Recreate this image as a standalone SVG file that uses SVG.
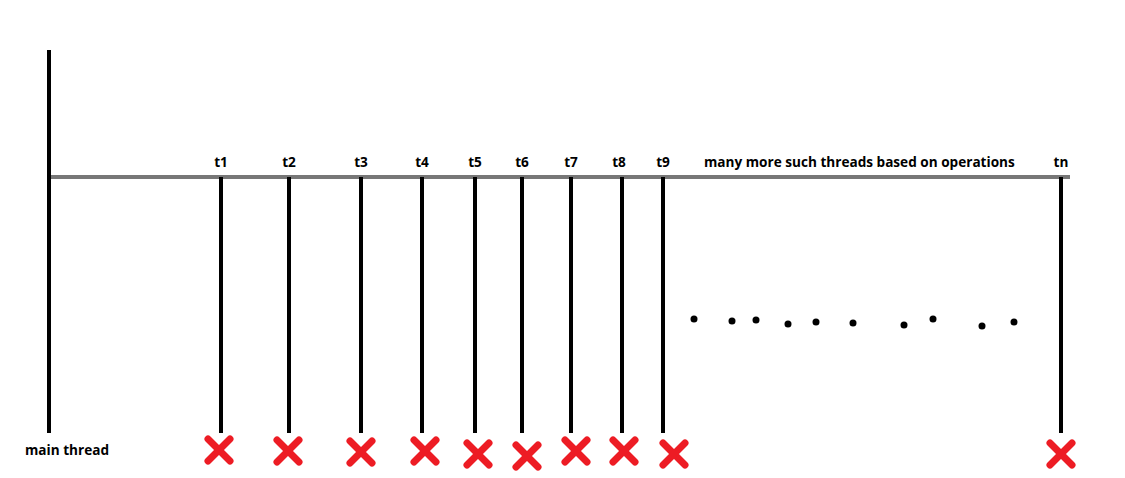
<svg xmlns="http://www.w3.org/2000/svg" width="1125" height="478" viewBox="0 0 1125 478">
<style>
.lbl{font-family:"Open Sans","Noto Sans","DejaVu Sans",sans-serif;font-weight:bold;font-size:13.6px;fill:#000}
.thr{stroke:#000;stroke-width:4}
.x{stroke:#ed1c24;stroke-width:7;stroke-linecap:round}
.dot{fill:#000}
</style>
<defs>
<g id="cross"><line class="x" x1="-11" y1="-11" x2="11" y2="11"/><line class="x" x1="11" y1="-11" x2="-11" y2="11"/></g>
</defs>
<rect width="1125" height="478" fill="#fff"/>
<g id="connectors">
<line x1="50" y1="177" x2="1070" y2="177" stroke="#777" stroke-width="4"/>
</g>
<g id="main"><line class="thr" x1="49" y1="50" x2="49" y2="433" stroke-width="5"/><text class="lbl" x="25" y="455">main thread</text></g>
<g id="t1"><line class="thr" x1="221" y1="177" x2="221" y2="433"/><text class="lbl" x="221" y="167" text-anchor="middle">t1</text><use href="#cross" x="219" y="450"/></g>
<g id="t2"><line class="thr" x1="289" y1="177" x2="289" y2="433"/><text class="lbl" x="289" y="167" text-anchor="middle">t2</text><use href="#cross" x="288" y="451"/></g>
<g id="t3"><line class="thr" x1="361" y1="177" x2="361" y2="433"/><text class="lbl" x="361" y="167" text-anchor="middle">t3</text><use href="#cross" x="361" y="452"/></g>
<g id="t4"><line class="thr" x1="422" y1="177" x2="422" y2="433"/><text class="lbl" x="422" y="167" text-anchor="middle">t4</text><use href="#cross" x="425" y="451"/></g>
<g id="t5"><line class="thr" x1="475" y1="177" x2="475" y2="433"/><text class="lbl" x="475" y="167" text-anchor="middle">t5</text><use href="#cross" x="478" y="454"/></g>
<g id="t6"><line class="thr" x1="522" y1="177" x2="522" y2="433"/><text class="lbl" x="522" y="167" text-anchor="middle">t6</text><use href="#cross" x="527" y="456"/></g>
<g id="t7"><line class="thr" x1="571" y1="177" x2="571" y2="433"/><text class="lbl" x="571" y="167" text-anchor="middle">t7</text><use href="#cross" x="576" y="451"/></g>
<g id="t8"><line class="thr" x1="622" y1="177" x2="622" y2="433"/><text class="lbl" x="619" y="167" text-anchor="middle">t8</text><use href="#cross" x="624" y="451"/></g>
<g id="t9"><line class="thr" x1="663" y1="177" x2="663" y2="433"/><text class="lbl" x="663" y="167" text-anchor="middle">t9</text><use href="#cross" x="674" y="454"/></g>
<g id="more"><text class="lbl" x="704" y="167">many more such threads based on operations</text>
<circle class="dot" cx="694" cy="319" r="3.5"/><circle class="dot" cx="732" cy="321" r="3.5"/><circle class="dot" cx="756" cy="320" r="3.5"/><circle class="dot" cx="788" cy="324" r="3.5"/><circle class="dot" cx="816" cy="322" r="3.5"/><circle class="dot" cx="853" cy="323" r="3.5"/><circle class="dot" cx="904" cy="325" r="3.5"/><circle class="dot" cx="933" cy="319" r="3.5"/><circle class="dot" cx="982" cy="326" r="3.5"/><circle class="dot" cx="1014" cy="322" r="3.5"/></g>
<g id="tn"><line class="thr" x1="1061" y1="177" x2="1061" y2="433"/><text class="lbl" x="1061" y="167" text-anchor="middle">tn</text><use href="#cross" x="1061" y="454"/></g>
</svg>
